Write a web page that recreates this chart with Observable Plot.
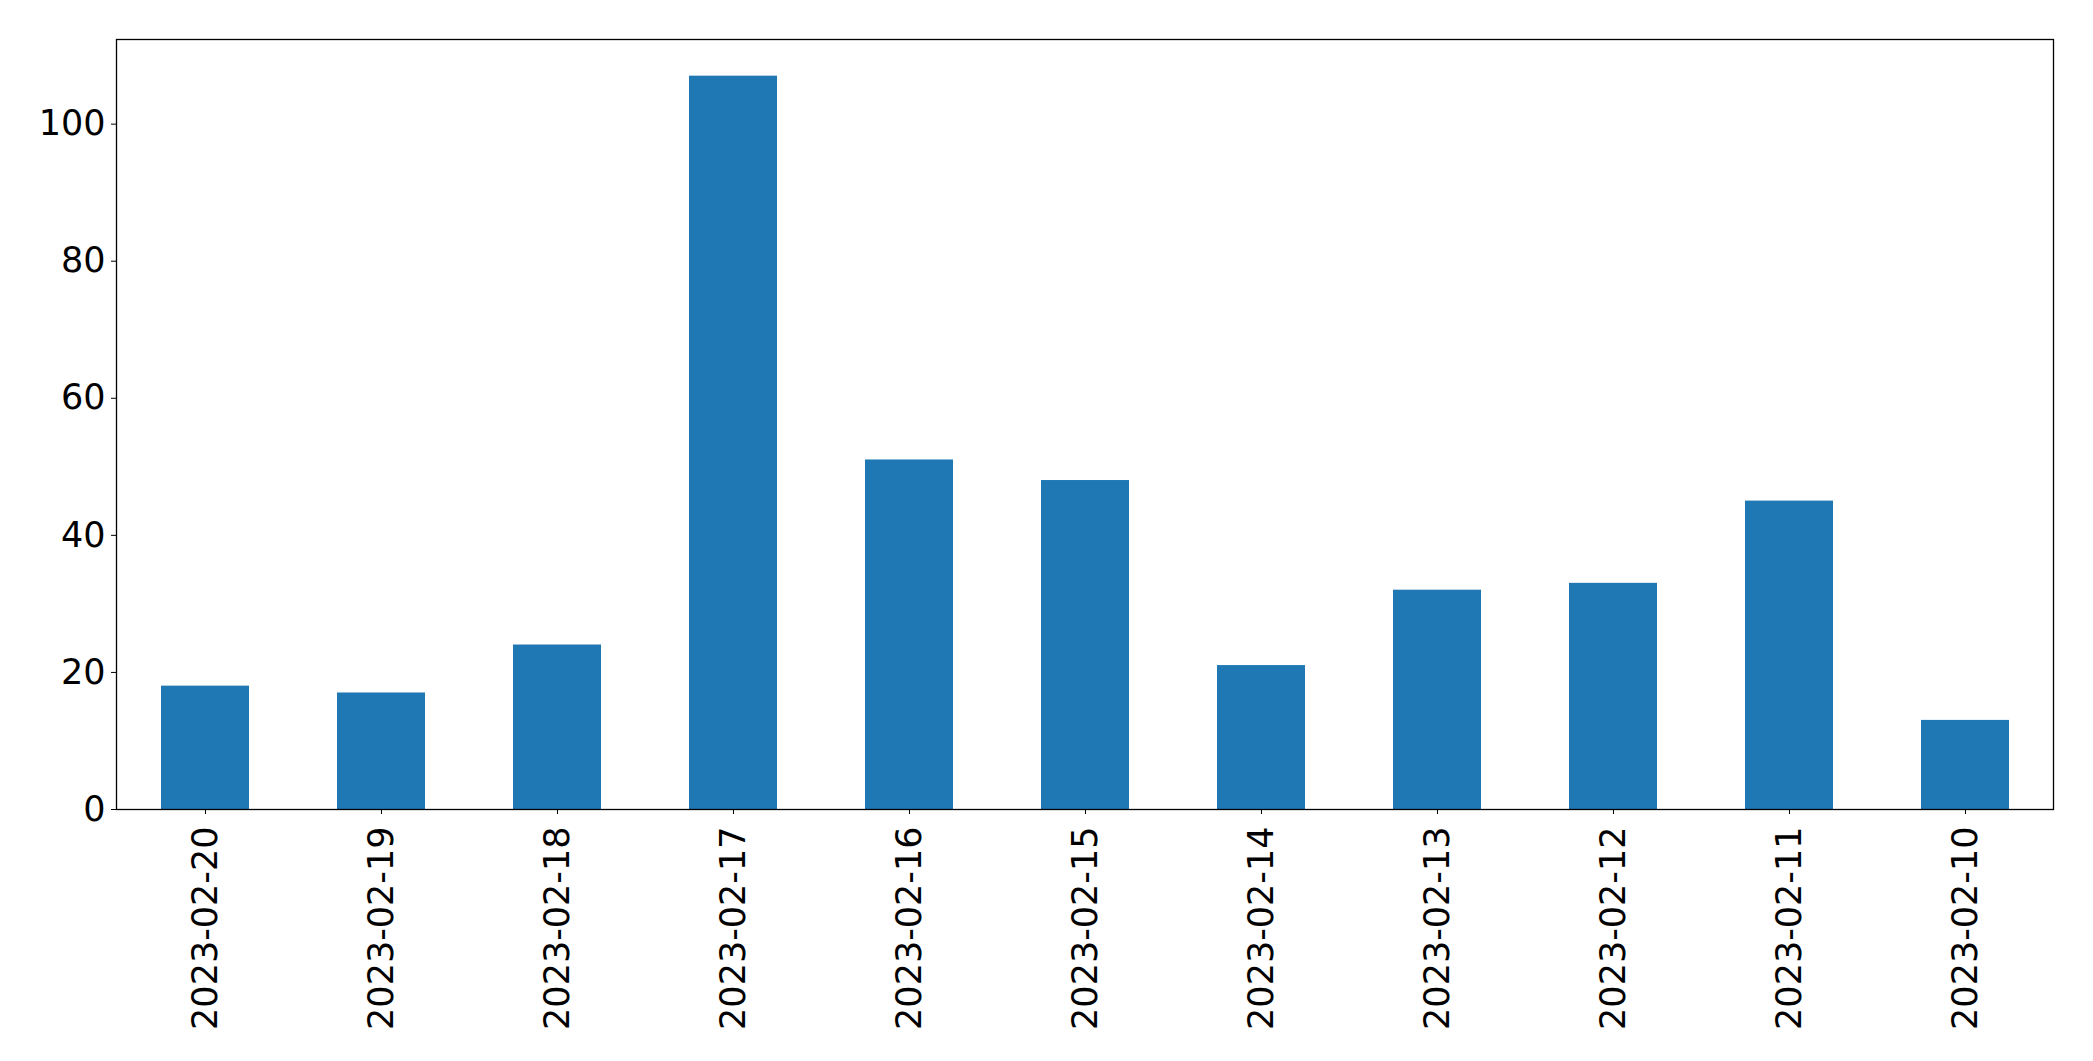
<!DOCTYPE html>
<html>
<head>
<meta charset="utf-8">
<script src="https://cdn.jsdelivr.net/npm/d3@7"></script>
<script src="https://cdn.jsdelivr.net/npm/@observablehq/plot@0.6"></script>
<style>
  html, body { margin: 0; padding: 0; background: #fff; }
</style>
</head>
<body>
<div id="chart"></div>
<script>
const dates = ["2023-02-20", "2023-02-19", "2023-02-18", "2023-02-17", "2023-02-16", "2023-02-15", "2023-02-14", "2023-02-13", "2023-02-12", "2023-02-11", "2023-02-10"];
const counts = [18, 17, 24, 107, 51, 48, 21, 32, 33, 45, 13];
const yTicks = [0, 20, 40, 60, 80, 100];

const data = dates.map((d, i) => ({date: d, count: counts[i]}));

const chart = Plot.plot({
  width: 2093,
  height: 1061,
  marginLeft: 116,
  marginRight: 40,
  marginTop: 39,
  marginBottom: 252,
  style: {fontFamily: "DejaVu Sans", fontSize: "35px", color: "#000", background: "#fff"},
  x: {domain: dates, paddingInner: 0.5, paddingOuter: 0.25, label: null},
  y: {domain: [0, d3.max(counts) * 1.05], label: null},
  marks: [
    Plot.barY(data, {x: "date", y: "count", fill: "#1f77b4"}),
    Plot.axisY({ticks: yTicks, tickSize: 5, tickPadding: 6, label: null, stroke: "#000", strokeWidth: 1}),
    Plot.axisX({tickSize: 5, tickPadding: 12, tickRotate: -90, label: null, stroke: "#000", strokeWidth: 1}),
    Plot.frame({stroke: "#000", strokeWidth: 1.3})
  ]
});
document.getElementById("chart").appendChild(chart);
</script>
</body>
</html>
